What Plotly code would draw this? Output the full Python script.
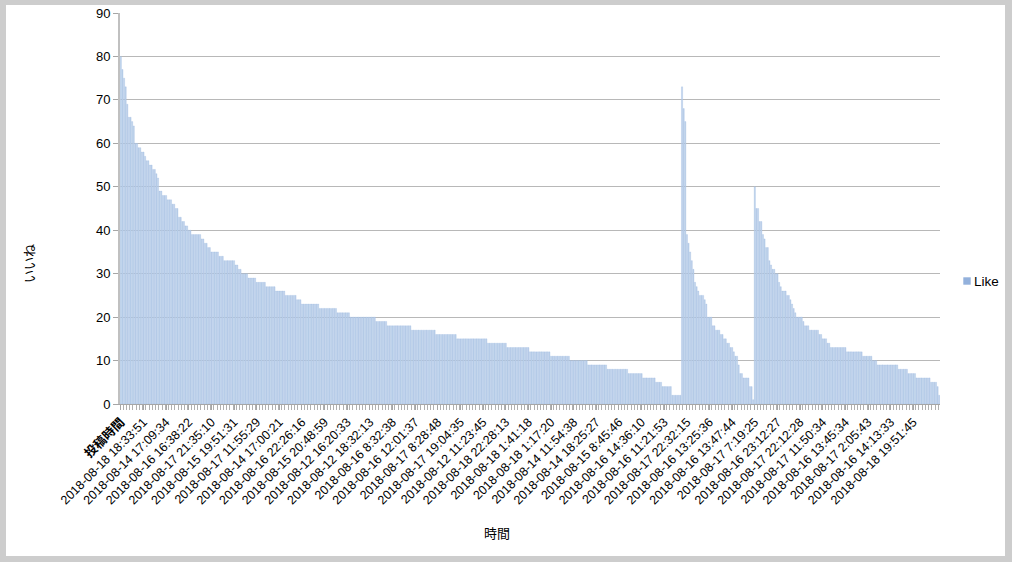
import plotly.graph_objects as go

# ---- data ----
tick_labels = [
    "<b>投稿時間</b>", "2018-08-18 18:33:51", "2018-08-14 17:09:34", "2018-08-16 16:38:22",
    "2018-08-17 21:35:10", "2018-08-15 19:51:31", "2018-08-17 11:55:29", "2018-08-14 17:00:21",
    "2018-08-16 22:26:16", "2018-08-15 20:48:59", "2018-08-12 16:20:33", "2018-08-12 18:32:13",
    "2018-08-16 8:32:38", "2018-08-16 12:01:37", "2018-08-17 8:28:48", "2018-08-17 19:04:35",
    "2018-08-12 11:23:45", "2018-08-18 22:28:13", "2018-08-18 1:41:18", "2018-08-18 1:17:20",
    "2018-08-14 11:54:38", "2018-08-14 18:25:27", "2018-08-15 8:45:46", "2018-08-16 14:36:10",
    "2018-08-16 11:21:53", "2018-08-17 22:32:15", "2018-08-16 13:25:36", "2018-08-16 13:47:44",
    "2018-08-17 7:19:25", "2018-08-16 23:12:27", "2018-08-17 22:12:28", "2018-08-17 11:50:34",
    "2018-08-16 13:45:34", "2018-08-17 2:05:43", "2018-08-16 14:13:33", "2018-08-18 19:51:45",
]
label_every = 14

# run-length reading of the three descending blocks: (like value, number of bars)
seg1_values = [80, 77, 75, 73, 69, 66, 65, 64, 60, 59, 58, 57, 56, 55, 54, 53, 52,
               49, 48, 47, 46, 45, 43, 42, 41, 40, 39, 38, 37, 36, 35, 34, 33, 32, 31,
               30, 29, 28, 27, 26, 25, 24, 23, 22, 21, 20, 19, 18, 17, 16, 15, 14, 13,
               12, 11, 10, 9, 8, 7, 6, 5, 4, 2]
seg1_counts = [1, 1, 1, 1, 1, 2, 1, 1, 2, 2, 2, 1, 2, 2, 2, 1, 1,
               2, 3, 3, 2, 2, 2, 2, 2, 2, 6, 2, 2, 2, 5, 3, 7, 2, 2,
               4, 5, 6, 6, 6, 7, 3, 11, 11, 8, 16, 7, 15, 15, 13, 19, 12, 14,
               13, 12, 11, 12, 13, 9, 8, 4, 6, 6]

seg2_values = [73, 68, 65, 39, 37, 35, 33, 31, 28, 27, 26, 25, 24, 23, 20, 18, 17,
               16, 15, 14, 13, 12, 11, 9, 7, 6, 4, 1]
seg2_counts = [1, 1, 1, 1, 1, 1, 1, 1, 1, 1, 1, 3, 1, 1, 3, 2, 3,
               2, 2, 2, 2, 1, 2, 1, 2, 4, 2, 1]

seg3_values = [50, 45, 42, 39, 38, 36, 33, 32, 31, 30, 28, 27, 26, 25, 24, 23, 22,
               21, 20, 19, 18, 17, 16, 15, 14, 13, 12, 11, 10, 9, 8, 7, 6, 5, 4, 2]
seg3_counts = [1, 2, 2, 1, 1, 2, 1, 1, 2, 2, 1, 1, 3, 2, 1, 1, 1,
               1, 4, 1, 3, 6, 2, 3, 2, 10, 10, 6, 3, 13, 6, 5, 9, 4, 1, 1]

series_name = "Like"
x_title = "時間"
y_title = "いいね"

# ---- expand runs into one value per bar ----
likes = []
for vals, cnts in ((seg1_values, seg1_counts), (seg2_values, seg2_counts), (seg3_values, seg3_counts)):
    for v, c in zip(vals, cnts):
        likes.extend([v] * c)
n = len(likes)
idx = list(range(n))
tickvals = [i * label_every for i in range(len(tick_labels))]

FONT = "Liberation Sans, Arial, Noto Sans CJK JP, sans-serif"
W, H = 1012, 562
L, R, T, B = 120, 72, 13, 158
PW, PH = W - L - R, H - T - B

def px(xp):
    return (xp - L) / PW

def py(yp):
    return (H - B - yp) / PH

fig = go.Figure()
fig.add_trace(go.Bar(
    x=idx, y=likes, name=series_name,
    marker=dict(color="#bfd2eb", line=dict(color="#9ab8e0", width=0.3)),
    showlegend=False,
))

fig.update_layout(
    width=W, height=H,
    margin=dict(l=L, r=R, t=T, b=B, autoexpand=False),
    paper_bgcolor="#cdcdcd",
    plot_bgcolor="white",
    bargap=0.25,
    font=dict(family=FONT, size=13, color="black"),
    xaxis=dict(
        range=[-0.5, n - 0.5],
        tickmode="array", tickvals=tickvals, ticktext=tick_labels,
        tickangle=-45, ticks="outside", ticklen=5, tickcolor="#a6a6a6",
        showgrid=False, zeroline=False,
        showline=True, linecolor="#a6a6a6", linewidth=1,
        tickfont=dict(family=FONT, size=12.5, color="black"),
        minor=dict(ticks="outside", ticklen=5, tickcolor="#b0b0b0", tick0=-0.5, dtick=2),
    ),
    yaxis=dict(
        range=[0, 90], dtick=10, tick0=0,
        ticks="outside", ticklen=5, tickcolor="#a6a6a6",
        showgrid=True, gridcolor="#b8b8b8", gridwidth=1,
        zeroline=False, showline=True, linecolor="#c0c0c0", linewidth=2,
        tickfont=dict(family=FONT, size=13, color="black"),
    ),
    shapes=[
        # white chart area inside the grey frame
        dict(type="rect", xref="paper", yref="paper", layer="below",
             x0=px(6), x1=px(1005), y0=py(556), y1=py(5),
             fillcolor="white", line=dict(width=0)),
        # legend swatch
        dict(type="rect", xref="paper", yref="paper",
             x0=px(963.3), x1=px(970.7), y0=py(284.7), y1=py(277.3),
             fillcolor="#93b1dc", line=dict(width=0)),
    ],
    annotations=[
        dict(text=series_name, xref="paper", yref="paper", x=px(972.5), y=py(281),
             xanchor="left", yanchor="middle", showarrow=False,
             font=dict(family=FONT, size=13.5, color="black")),
        dict(text=x_title, xref="paper", yref="paper", x=px(497), y=py(533),
             xanchor="center", yanchor="middle", showarrow=False,
             font=dict(family=FONT, size=13, color="black")),
        dict(text=y_title, xref="paper", yref="paper", x=px(29), y=py(264),
             xanchor="center", yanchor="middle", showarrow=False, textangle=-90,
             font=dict(family=FONT, size=13, color="black")),
    ],
)

fig.write_html("out.html", config={"displayModeBar": False},
               post_script="document.body.style.margin='0px';")
